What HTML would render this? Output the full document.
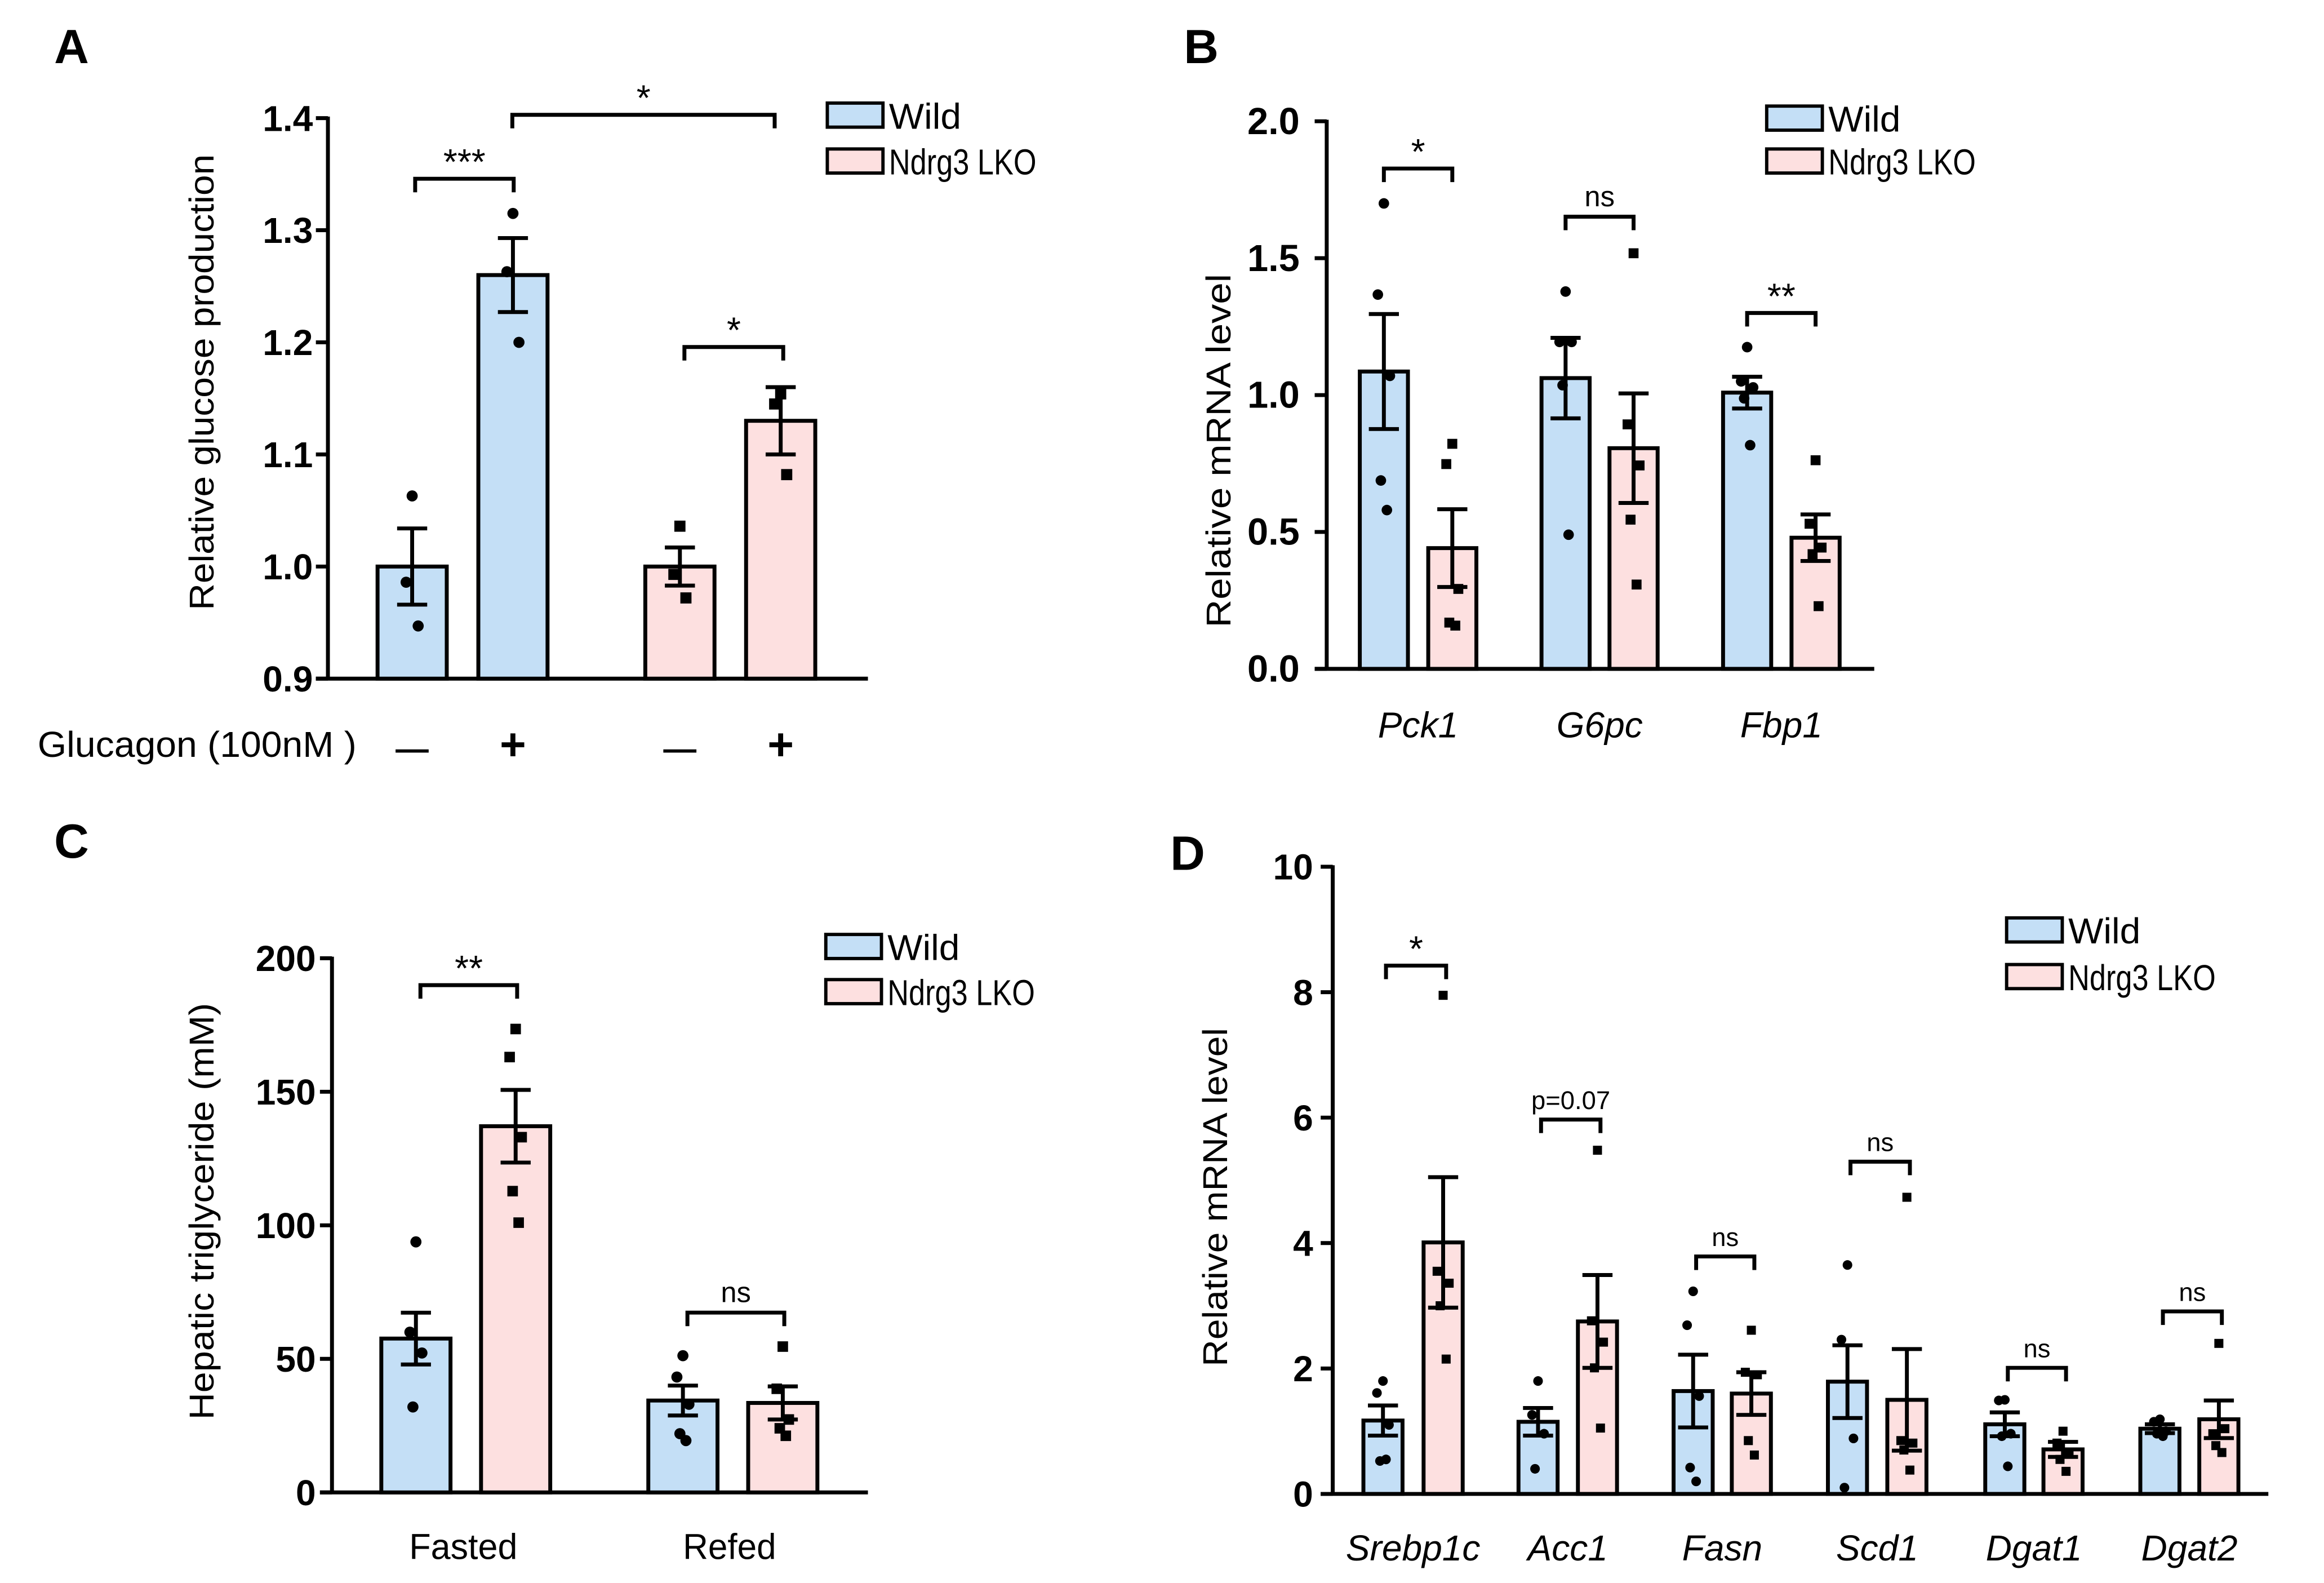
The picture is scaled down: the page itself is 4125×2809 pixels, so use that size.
<!DOCTYPE html>
<html><head><meta charset="utf-8"><style>
html,body{margin:0;padding:0;background:#fff;}
svg{display:block;font-family:"Liberation Sans",Arial,sans-serif;}
</style></head><body>
<svg id="fig" width="4125" height="2809" viewBox="0 0 1545 1052" preserveAspectRatio="none" xmlns="http://www.w3.org/2000/svg"></svg>
<script>
// ---- Panel A data ----
const aCats=["Wild -","Wild +","LKO -","LKO +"];
const aVals=[1.0,1.260,1.0,1.130];
const aErr=[0.034,0.033,0.017,0.030];
const aPts=[[1.063,0.986,0.947],[1.315,1.263,1.2],[1.036,0.993,0.972],[1.154,1.145,1.082]];
const aTicks=[0.9,1.0,1.1,1.2,1.3,1.4];
// ---- Panel B data ----
const bCats=["Pck1","G6pc","Fbp1"];
const bWild=[1.086,1.062,1.009];
const bLko=[0.441,0.806,0.479];
const bWildErr=[0.21,0.147,0.058];
const bLkoErr=[0.142,0.2,0.085];
const bWildPts=[[1.70,1.367,1.07,0.688,0.58],[1.378,1.194,1.194,1.036,0.49],[1.175,1.05,1.028,0.988,0.817]];
const bLkoPts=[[0.822,0.748,0.292,0.169,0.158],[1.518,0.893,0.743,0.545,0.308],[0.762,0.53,0.443,0.419,0.229]];
const bTicks=[0,0.5,1.0,1.5,2.0];
const bSig=["*","ns","**"];
// ---- Panel C data ----
const cCats=["Fasted","Refed"];
const cWild=[57.6,34.4];
const cLko=[137.1,33.5];
const cWildErr=[9.7,5.6];
const cLkoErr=[13.6,6.2];
const cWildPts=[[93.8,60,52.2,32],[51.2,43.2,33,22,19.4]];
const cLkoPts=[[173.5,163,133,112.8,101],[54.6,38.8,27.3,24,21.2]];
const cTicks=[0,50,100,150,200];
const cSig=["**","ns"];
// ---- Panel D data ----
const dCats=["Srebp1c","Acc1","Fasn","Scd1","Dgat1","Dgat2"];
const dWild=[1.17,1.15,1.64,1.79,1.11,1.04];
const dLko=[4.01,2.75,1.6,1.5,0.71,1.19];
const dWildErr=[0.24,0.22,0.58,0.58,0.19,0.07];
const dLkoErr=[1.04,0.74,0.34,0.81,0.12,0.3];
const dWildPts=[[1.8,1.61,1.1,0.525,0.55],[1.8,1.26,0.96,0.4],[3.23,2.69,1.56,0.42,0.2],[3.65,2.46,0.885,0.1],[1.5,1.49,0.96,0.92,0.44],[1.19,1.15,1.0,0.96,0.92]];
const dLkoPts=[[7.95,3.55,3.36,3.0,2.15],[5.48,2.76,2.42,2.01,1.05],[2.61,1.94,1.9,0.85,0.62],[4.73,0.85,0.81,0.7,0.38],[1.0,0.81,0.66,0.55,0.36],[2.4,0.96,1.04,0.77,0.66]];
const dTicks=[0,2,4,6,8,10];
const dSig=["*","p=0.07","ns","ns","ns","ns"];

const NS="http://www.w3.org/2000/svg";
const svg=document.getElementById('fig');
const BLUE="#c4dff6",PINK="#fde0e0";
function el(tag,attrs,parent,text){const e=document.createElementNS(NS,tag);for(const k in attrs)e.setAttribute(k,attrs[k]);if(text!==undefined)e.textContent=text;(parent||svg).appendChild(e);return e;}
function grp(name){const g=el('g',{},svg);return g;}
function scale(d0,d1,p0,p1){return v=>p0+(v-d0)*(p1-p0)/(d1-d0);}

function axes(g,x0,x1,yTop,yBot,ticks,y,fmt,tickRight,tfs){
  el('line',{x1:x0,y1:yTop-1,x2:x0,y2:yBot,stroke:'#000','stroke-width':2.6},g);
  el('line',{x1:x0-8,y1:yBot,x2:x1,y2:yBot,stroke:'#000','stroke-width':2.6},g);
  ticks.forEach(t=>{const yy=y(t);
    el('line',{x1:x0-8,y1:yy,x2:x0,y2:yy,stroke:'#000','stroke-width':2.6},g);
    const tx=el('text',{x:tickRight,y:yy+8.5,'text-anchor':'end','font-size':tfs,'font-weight':'bold'},g,fmt(t));
    });
}
function ylabel(g,x,cy,len,txt){
  const lb=el('text',{x:x,y:cy,'text-anchor':'middle','font-size':23,textLength:len,lengthAdjust:'spacingAndGlyphs',transform:`rotate(-90 ${x} ${cy})`},g,txt);
  
}
function bar(g,cx,w,v,err,pts,y,fill,square,name,ms){
  const b=el('rect',{x:cx-w/2,y:y(v),width:w,height:y(0)-y(v),fill:fill,stroke:'#000','stroke-width':2.6},g);
  
  el('line',{x1:cx,y1:y(v-err),x2:cx,y2:y(v+err),stroke:'#000','stroke-width':2.6},g);
  [v-err,v+err].forEach(e=>el('line',{x1:cx-10,y1:y(e),x2:cx+10,y2:y(e),stroke:'#000','stroke-width':2.6},g));
  pts.forEach((p,i)=>{const off=[0,-4,4,-2,2,0][i%6];const yy=y(p);
    const m=square?el('rect',{x:cx+off-ms,y:yy-ms,width:2*ms,height:2*ms,fill:'#000'},g):el('circle',{cx:cx+off,cy:yy,r:ms,fill:'#000'},g);
    });
}
function bracket(g,xa,xb,yy,txt,fs){
  el('path',{d:`M${xa} ${yy+9}V${yy}H${xb}V${yy+9}`,fill:'none',stroke:'#000','stroke-width':2.6},g);
  const t=el('text',{x:(xa+xb)/2,y:yy-(txt.indexOf('*')>=0?3:7),'text-anchor':'middle','font-size':fs},g,txt);
  
}
function legend(g,x,y1,y2){
  [[BLUE,'Wild',y1,48],[PINK,'Ndrg3 LKO',y2,98]].forEach(l=>{
    const r=el('rect',{x:x,y:l[2],width:37,height:16,fill:l[0],stroke:'#000','stroke-width':2.2},g);
    
    const t=el('text',{x:x+41,y:l[2]+17,'font-size':24,textLength:l[3],lengthAdjust:'spacingAndGlyphs'},g,l[1]);
    });
}
function xlabel(g,x,y,txt,italic,len){
  const a={x:x,y:y,'text-anchor':'middle','font-size':24};
  if(italic)a['font-style']='italic';
  if(len){a.textLength=len;a.lengthAdjust='spacingAndGlyphs';}
  const t=el('text',a,g,txt);
}
function letter(x,y,c){const t=el('text',{x:x,y:y,'font-size':32,'font-weight':'bold'},svg,c);}
letter(36,42,'A');letter(787,42,'B');letter(36,570,'C');letter(778,578,'D');

// Panel A
(function(){const g=grp('panel-a');
  const y=scale(0.9,1.4,451,78.5);
  axes(g,218,577,78.5,451,aTicks,y,t=>t.toFixed(1),208,24);
  ylabel(g,142,254,303,'Relative glucose production');
  const xs=[274,341,452,519];
  aCats.forEach((c,i)=>bar(g,xs[i],46,aVals[i],aErr[i],aPts[i],v=>y(Math.max(v,0.9)),i<2?BLUE:PINK,i>=2,'bar-'+i,3.7));
  bracket(g,276,341.5,118.8,'***',24);
  bracket(g,340.6,515,76.3,'*',24);
  bracket(g,455,520.7,230.6,'*',24);
  legend(g,550,68.5,99);
  const gl=el('text',{x:25,y:503,'font-size':24,textLength:212,lengthAdjust:'spacingAndGlyphs'},g,'Glucagon (100nM )');
  ['—','+','—','+'].forEach((s,i)=>{const t=el('text',{x:xs[i],y:505,'text-anchor':'middle','font-size':s=='+'?30:22,'font-weight':'bold'},g,s);});
})();
// Panel B
(function(){const g=grp('panel-b');
  const y=scale(0,2,444.5,80.6);
  axes(g,882,1246,80.6,444.5,bTicks,y,t=>t.toFixed(1),864,25);
  ylabel(g,818,299.5,235,'Relative mRNA level');
  const wx=[920,1040.8,1161.5],lx=[965.5,1086,1207];const sy=[112,144,208];
  bCats.forEach((c,i)=>{
    bar(g,wx[i],32,bWild[i],bWildErr[i],bWildPts[i],y,BLUE,false,'bar-wild-'+c,3.5);
    bar(g,lx[i],32,bLko[i],bLkoErr[i],bLkoPts[i],y,PINK,true,'bar-lko-'+c,3.3);
    bracket(g,wx[i],lx[i],sy[i],bSig[i],bSig[i]=='ns'?19:24);
    xlabel(g,(wx[i]+lx[i])/2,490,c,true);});
  legend(g,1174.5,70.5,99);
})();
// Panel C
(function(){const g=grp('panel-c');
  const y=scale(0,200,991.8,636.8);
  axes(g,220.7,577,636.8,991.8,cTicks,y,t=>String(t),210,24);
  ylabel(g,142,805,277,'Hepatic triglyceride (mM)');
  const wx=[276.5,454],lx=[342.8,520.4];const sy=[654.7,872.3];const lbx=[308,485];
  cCats.forEach((c,i)=>{
    bar(g,wx[i],46,cWild[i],cWildErr[i],cWildPts[i],y,BLUE,false,'bar-wild-'+c,3.7);
    bar(g,lx[i],46,cLko[i],cLkoErr[i],cLkoPts[i],y,PINK,true,'bar-lko-'+c,3.5);
    bracket(g,wx[i]+3,lx[i]+1,sy[i],cSig[i],cSig[i]=='ns'?19:24);
    xlabel(g,lbx[i],1036,c,false,c=='Fasted'?72:62);});
  legend(g,549,621,651);
})();
// Panel D
(function(){const g=grp('panel-d');
  const y=scale(0,10,992.8,576);
  axes(g,886,1508,576,992.8,dTicks,y,t=>String(t),873,24);
  ylabel(g,815.7,795.6,225,'Relative mRNA level');
  const wx=[919.4,1022.5,1125.6,1228.2,1332.8,1435.9],lx=[959.4,1062,1164.3,1267.7,1371.5,1475.1];
  const sy=[641.7,744,835,772,909,871.5];
  dCats.forEach((c,i)=>{
    bar(g,wx[i],26,dWild[i],dWildErr[i],dWildPts[i],y,BLUE,false,'bar-wild-'+c,3.2);
    bar(g,lx[i],26,dLko[i],dLkoErr[i],dLkoPts[i],y,PINK,true,'bar-lko-'+c,3);
    bracket(g,wx[i]+2,lx[i]+2,sy[i],dSig[i],dSig[i]=='*'?24:17);
    xlabel(g,(wx[i]+lx[i])/2,1037,c,true);});
  legend(g,1334,610,641);
})();
</script>
</body></html>
